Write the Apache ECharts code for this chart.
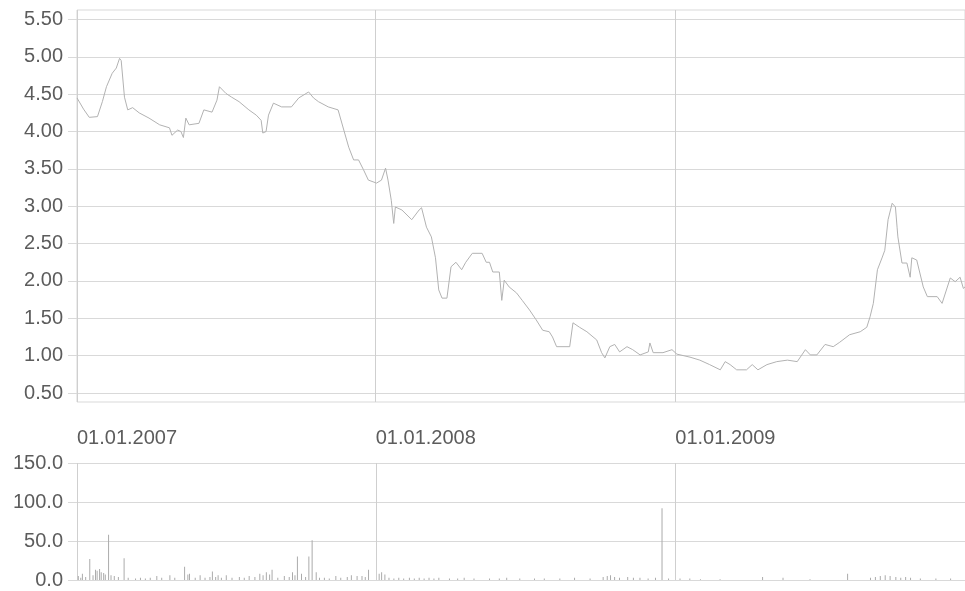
<!DOCTYPE html>
<html>
<head>
<meta charset="utf-8">
<script src="https://cdn.jsdelivr.net/npm/echarts@6/dist/echarts.min.js"></script>
<style>
html,body{margin:0;padding:0;background:#fff;}
#chart{width:965px;height:591px;}
</style>
</head>
<body>
<div id="chart"></div>
<script>
// ---- price series (date, value) ----
const priceDates = [
'2007-01-01','2007-01-09','2007-01-16','2007-01-26','2007-02-01','2007-02-06','2007-02-13','2007-02-18','2007-02-22','2007-02-24',
'2007-02-28','2007-03-04','2007-03-10','2007-03-18','2007-03-30','2007-04-12','2007-04-24','2007-04-27','2007-05-04','2007-05-08',
'2007-05-11','2007-05-14','2007-05-18','2007-05-30','2007-06-05','2007-06-15','2007-06-21','2007-06-24','2007-07-02','2007-07-09',
'2007-07-18','2007-07-30','2007-08-08','2007-08-14','2007-08-16','2007-08-20','2007-08-23','2007-08-29','2007-09-08','2007-09-20',
'2007-09-29','2007-10-11','2007-10-17','2007-10-23','2007-11-04','2007-11-16','2007-11-23','2007-11-29','2007-12-05','2007-12-11',
'2007-12-17','2007-12-23','2008-01-02','2008-01-08','2008-01-13','2008-01-16','2008-01-20','2008-01-23','2008-01-25','2008-02-02',
'2008-02-14','2008-02-23','2008-02-26','2008-03-03','2008-03-09','2008-03-14','2008-03-18','2008-03-22','2008-03-28','2008-04-02',
'2008-04-08','2008-04-15','2008-04-20','2008-04-28','2008-05-10','2008-05-15','2008-05-19','2008-05-23','2008-05-31','2008-06-03',
'2008-06-06','2008-06-12','2008-06-21','2008-06-28','2008-07-07','2008-07-15','2008-07-23','2008-07-31','2008-08-04','2008-08-09',
'2008-08-25','2008-08-29','2008-09-06','2008-09-15','2008-09-27','2008-10-03','2008-10-07','2008-10-13','2008-10-19','2008-10-25',
'2008-11-03','2008-11-10','2008-11-19','2008-11-29','2008-12-01','2008-12-05','2008-12-17','2008-12-28','2009-01-03','2009-01-19',
'2009-01-31','2009-02-12','2009-02-25','2009-03-03','2009-03-09','2009-03-17','2009-03-29','2009-04-05','2009-04-12','2009-04-23',
'2009-05-05','2009-05-18','2009-05-30','2009-06-09','2009-06-15','2009-06-23','2009-07-03','2009-07-13','2009-07-21','2009-08-02',
'2009-08-15','2009-08-23','2009-08-27','2009-08-31','2009-09-05','2009-09-11','2009-09-14','2009-09-18','2009-09-23','2009-09-27',
'2009-09-29','2009-09-30','2009-10-05','2009-10-11','2009-10-15','2009-10-17','2009-10-23','2009-10-31','2009-11-05','2009-11-17',
'2009-11-23','2009-12-03','2009-12-09','2009-12-15','2009-12-19','2009-12-21'
];
const priceValues = [
4.45,4.30,4.19,4.20,4.40,4.60,4.78,4.85,4.98,4.95,
4.46,4.29,4.32,4.25,4.18,4.09,4.05,3.95,4.02,4.00,
3.92,4.18,4.09,4.11,4.29,4.26,4.42,4.60,4.51,4.46,
4.40,4.29,4.22,4.15,3.98,4.00,4.22,4.38,4.33,4.33,
4.45,4.53,4.45,4.40,4.33,4.29,4.02,3.79,3.62,3.62,
3.49,3.35,3.31,3.35,3.51,3.35,3.08,2.77,2.99,2.95,
2.82,2.95,2.98,2.72,2.59,2.31,1.88,1.77,1.77,2.19,
2.25,2.15,2.25,2.37,2.37,2.25,2.25,2.12,2.12,1.74,
2.01,1.92,1.84,1.74,1.61,1.48,1.34,1.32,1.25,1.12,
1.12,1.44,1.38,1.32,1.21,1.04,0.97,1.12,1.15,1.05,
1.12,1.08,1.01,1.05,1.17,1.04,1.04,1.08,1.02,0.98,
0.94,0.88,0.81,0.92,0.88,0.81,0.81,0.88,0.81,0.88,
0.92,0.94,0.92,1.08,1.01,1.01,1.15,1.12,1.18,1.28,
1.32,1.38,1.52,1.70,2.15,2.32,2.41,2.82,3.04,2.99,
2.72,2.59,2.24,2.24,2.05,2.31,2.28,1.92,1.79,1.79,
1.70,2.04,1.99,2.05,1.90,1.92
];

// ---- volume series (date, value) ----
const volDates = [
'2007-01-02','2007-01-05','2007-01-07','2007-01-11','2007-01-16','2007-01-20','2007-01-23','2007-01-25','2007-01-28','2007-01-30',
'2007-02-02','2007-02-04','2007-02-08','2007-02-11','2007-02-15','2007-02-20','2007-02-27','2007-03-04','2007-03-13','2007-03-19',
'2007-03-25','2007-03-31','2007-04-08','2007-04-14','2007-04-24','2007-04-30','2007-05-12','2007-05-16','2007-05-18','2007-05-25',
'2007-05-31','2007-06-06','2007-06-12','2007-06-15','2007-06-19','2007-06-22','2007-06-26','2007-07-02','2007-07-09','2007-07-18',
'2007-07-24','2007-07-30','2007-08-06','2007-08-12','2007-08-16','2007-08-20','2007-08-24','2007-08-27','2007-09-03','2007-09-11',
'2007-09-17','2007-09-21','2007-09-24','2007-09-27','2007-10-02','2007-10-07','2007-10-11','2007-10-15','2007-10-20','2007-10-24',
'2007-10-30','2007-11-05','2007-11-13','2007-11-19','2007-11-27','2007-12-02','2007-12-09','2007-12-15','2007-12-19','2007-12-23',
'2008-01-05','2008-01-08','2008-01-12','2008-01-17','2008-01-23','2008-01-29','2008-02-04','2008-02-11','2008-02-17','2008-02-23',
'2008-02-29','2008-03-06','2008-03-12','2008-03-18','2008-03-31','2008-04-10','2008-04-18','2008-04-30','2008-05-19','2008-05-31',
'2008-06-09','2008-06-25','2008-07-13','2008-07-25','2008-08-13','2008-08-31','2008-09-19','2008-10-05','2008-10-10','2008-10-14',
'2008-10-19','2008-10-25','2008-11-04','2008-11-11','2008-11-19','2008-11-29','2008-12-08','2008-12-16','2008-12-24','2009-01-07',
'2009-01-19','2009-02-01','2009-02-25','2009-04-18','2009-05-13','2009-06-15','2009-07-31','2009-08-28','2009-09-03','2009-09-09',
'2009-09-15','2009-09-21','2009-09-28','2009-10-04','2009-10-10','2009-10-16','2009-10-28','2009-11-16','2009-12-04'
];
const volValues = [
5,3,8,4,27,6,13,12,14,10,
9,7,58,6,5,4,28,3,2,3,
2,3,5,3,6,3,17,7,8,3,
6,3,4,11,4,6,3,6,3,4,
3,5,4,8,6,10,7,13,3,5,
4,10,6,30,8,4,30,51,10,3,
3,2,5,3,4,6,5,5,4,13,
8,10,7,3,2,3,2,3,2,3,
2,3,2,3,2,2,3,2,2,2,
3,2,2,2,2,3,2,4,5,6,
4,3,4,3,3,2,3,92,2,2,
2,1,1,4,3,1,8,3,4,5,
6,5,4,3,4,3,2,2,2
];

// ---- axis ranges / ticks ----
const xMin = '2007-01-01';
const xMax = '2009-12-21';
const priceTicks = [0.5, 5.5, 0.5];   // min, max, step
const volTicks = [0, 150, 50];

const FONT = 'Liberation Sans';
const LABEL = '#5c5c5c';
const GRID = '#d9d9d9';
const VGRID = '#cfcfcf';

const price = priceDates.map((d, i) => [d, priceValues[i]]);
const vol = volDates.map((d, i) => [d, volValues[i]]);

const YEAR = 365 * 24 * 3600 * 1000;

const chart = echarts.init(document.getElementById('chart'), null, {renderer: 'canvas'});
chart.setOption({
  animation: false,
  backgroundColor: '#ffffff',
  grid: [
    {left: 77, right: -1, top: 10, height: 392, show: true, borderColor: GRID, borderWidth: 1, backgroundColor: 'transparent'},
    {left: 77, right: -1, top: 19.5, height: 373.5},
    {left: 77, right: -1, top: 463, height: 117}
  ],
  xAxis: [
    {type: 'time', gridIndex: 0, min: xMin, max: xMax, minInterval: YEAR, maxInterval: YEAR + 86400000,
     axisLine: {show: false}, axisTick: {show: false},
     splitLine: {show: true, lineStyle: {color: VGRID, width: 1}},
     axisLabel: {show: true, formatter: '{dd}.{MM}.{yyyy}', align: 'left', margin: 26,
       color: LABEL, fontFamily: FONT, fontSize: 20, hideOverlap: false}},
    {type: 'time', gridIndex: 1, min: xMin, max: xMax, show: false, splitLine: {show: false}},
    {type: 'time', gridIndex: 2, min: xMin, max: xMax, minInterval: YEAR, maxInterval: YEAR + 86400000,
     axisLine: {show: false}, axisTick: {show: false}, axisLabel: {show: false},
     splitLine: {show: true, lineStyle: {color: VGRID, width: 1}}}
  ],
  yAxis: [
    {type: 'value', gridIndex: 0, min: 0, max: 1, show: false, splitLine: {show: false}},
    {type: 'value', gridIndex: 1, min: priceTicks[0], max: priceTicks[1], interval: priceTicks[2],
     axisLine: {show: false},
     axisTick: {show: true, length: 9, lineStyle: {color: GRID}},
     splitLine: {show: true, lineStyle: {color: GRID, width: 1}},
     axisLabel: {margin: 14, color: LABEL, fontFamily: FONT, fontSize: 20, formatter: v => v.toFixed(2)}},
    {type: 'value', gridIndex: 2, min: volTicks[0], max: volTicks[1], interval: volTicks[2],
     axisLine: {show: false},
     axisTick: {show: true, length: 9, lineStyle: {color: GRID}},
     splitLine: {show: true, lineStyle: {color: GRID, width: 1}},
     axisLabel: {margin: 14, color: LABEL, fontFamily: FONT, fontSize: 20, formatter: v => v.toFixed(1)}}
  ],
  series: [
    {type: 'line', xAxisIndex: 1, yAxisIndex: 1, data: price, showSymbol: false, symbol: 'none',
     lineStyle: {color: '#b2b2b2', width: 1}},
    {type: 'bar', xAxisIndex: 2, yAxisIndex: 2, data: vol, barWidth: 1, barMinWidth: 1,
     itemStyle: {color: '#ababab'}}
  ]
});
</script>
</body>
</html>
